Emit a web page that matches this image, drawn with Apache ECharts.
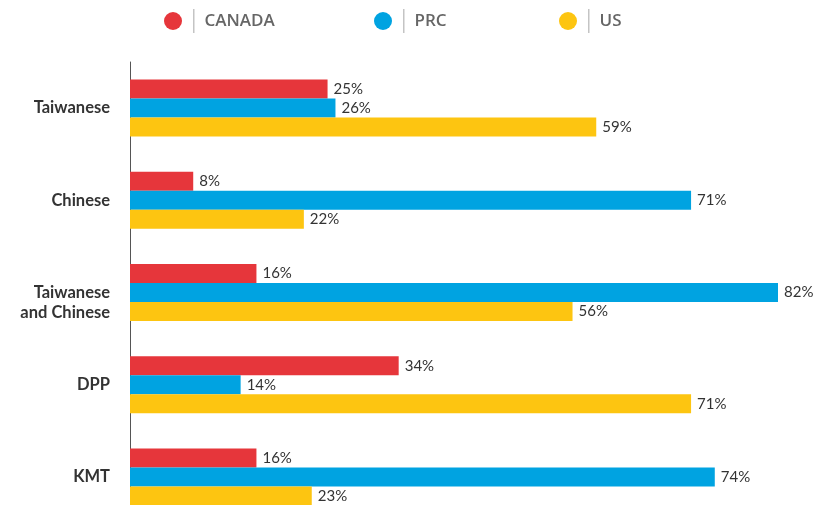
<!DOCTYPE html>
<html>
<head>
<meta charset="utf-8">
<script src="https://cdn.jsdelivr.net/npm/echarts@6/dist/echarts.min.js"></script>
<style>
  html, body { margin: 0; padding: 0; background: #fff; }
  #main { width: 815px; height: 505px; }
</style>
</head>
<body>
<div id="main"></div>
<script>
const categories = ["Taiwanese", "Chinese", "Taiwanese\nand Chinese", "DPP", "KMT"];
const canada = [25, 8, 16, 34, 16];
const prc = [26, 71, 82, 14, 74];
const us = [59, 22, 56, 71, 23];

const colors = { CANADA: "#e6363b", PRC: "#00a3e1", US: "#fdc511" };
const font = "Lato, 'Noto Sans', sans-serif";

function legend(name, left) {
  return {
    data: [name],
    left: left,
    top: 4,
    icon: "circle",
    itemWidth: 18,
    itemHeight: 18,
    selectedMode: false,
    formatter: function (n) {
      return "{s|}{bar|}{s2|}{n|" + n + "}";
    },
    textStyle: {
      rich: {
        s: { width: 6 },
        bar: { width: 1.5, height: 24, backgroundColor: "#c4c4c4" },
        s2: { width: 10 },
        n: { fontSize: 17, fontWeight: 600, color: "#666", fontFamily: "'Open Sans', sans-serif" },
      },
    },
  };
}

function series(name, values) {
  return {
    name: name,
    type: "bar",
    data: values,
    barWidth: 19,
    barGap: "0%",
    itemStyle: { color: colors[name] },
    label: {
      show: true,
      position: "right",
      distance: 6,
      formatter: "{c}%",
      fontSize: 15,
      color: "#333",
      fontFamily: font,
    },
  };
}

const chart = echarts.init(document.getElementById("main"));
chart.setOption({
  animation: false,
  legend: [legend("CANADA", 159), legend("PRC", 369), legend("US", 554)],
  grid: { left: 130, width: 648, top: 62, height: 461, outerBoundsMode: "none", containLabel: false },
  xAxis: {
    type: "value",
    min: 0,
    max: 82,
    show: false,
  },
  yAxis: {
    type: "category",
    data: categories,
    inverse: true,
    axisLine: { show: true, lineStyle: { color: "#555", width: 1 } },
    axisTick: { show: false },
    axisLabel: {
      margin: 20,
      fontSize: 16.5,
      fontWeight: "bold",
      color: "#333",
      fontFamily: font,
      lineHeight: 20,
      // two-line label sits a little lower in the original
      formatter: function (v) {
        return v.indexOf("\n") >= 0 ? "\n" + v : v;
      },
    },
  },
  series: [series("CANADA", canada), series("PRC", prc), series("US", us)],
});
</script>
</body>
</html>
